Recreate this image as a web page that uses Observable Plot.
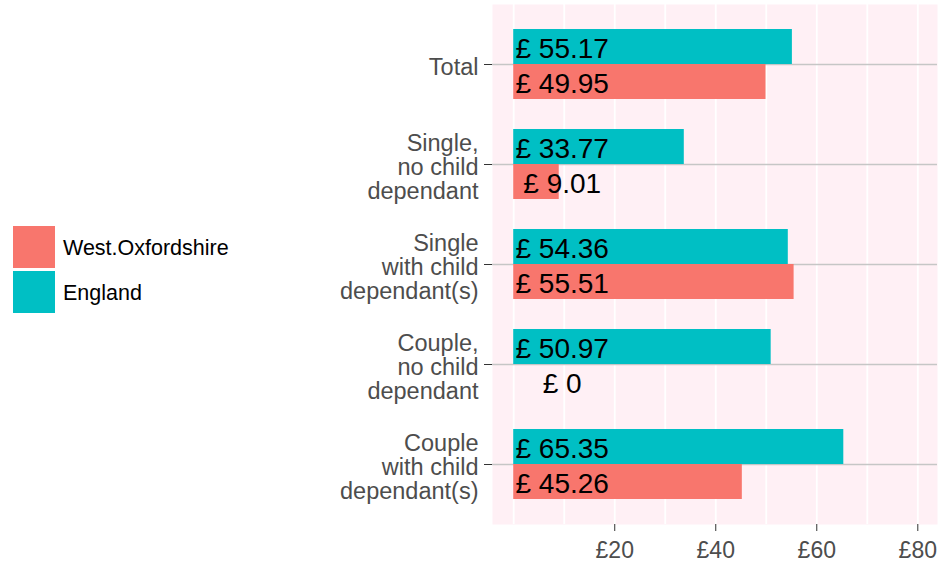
<!DOCTYPE html>
<html>
<head>
<meta charset="utf-8">
<script src="https://cdn.jsdelivr.net/npm/d3@7"></script>
<script src="https://cdn.jsdelivr.net/npm/@observablehq/plot@0.6"></script>
<style>
  html, body { margin: 0; padding: 0; background: #ffffff; }
  #wrap { position: relative; width: 945px; height: 565px; font-family: "Liberation Sans", Arial, sans-serif; }
  #chart { position: absolute; left: 0; top: 0; }
  .legend { position: absolute; left: 13px; top: 226px; }
  .legend .item { display: flex; align-items: center; height: 42px; margin-bottom: 3px; }
  .legend .key { width: 42px; height: 42px; margin-right: 8px; }
  .legend .lab { font-size: 21.5px; color: #000; padding-top: 3px; }
</style>
</head>
<body>
<div id="wrap">
  <div id="chart"></div>
  <div class="legend" id="legend"></div>
</div>
<script>
// ---- data ----
const categories = [
  "Total",
  "Single,\nno child\ndependant",
  "Single\nwith child\ndependant(s)",
  "Couple,\nno child\ndependant",
  "Couple\nwith child\ndependant(s)"
];
const england = [55.17, 33.77, 54.36, 50.97, 65.35];
const westOxfordshire = [49.95, 9.01, 55.51, 0, 45.26];
const seriesNames = ["West.Oxfordshire", "England"];
const seriesColors = ["#F8766D", "#00BFC4"];
const xTicks = [20, 40, 60, 80];
const xGrid = [0, 10, 20, 30, 40, 50, 60, 70, 80];

// ---- build table ----
const barWidth = 0.7;
const labelX = 9.6;
const rows = [];
categories.forEach((c, i) => {
  const pos = i + 1;
  rows.push({cat: c, pos, series: "England", value: england[i], y1: pos - barWidth / 2, y2: pos});
  rows.push({cat: c, pos, series: "West.Oxfordshire", value: westOxfordshire[i], y1: pos, y2: pos + barWidth / 2});
});
const positions = categories.map((c, i) => i + 1);

const chart = Plot.plot({
  width: 945,
  height: 565,
  marginLeft: 492,
  marginRight: 8,
  marginTop: 4,
  marginBottom: 41,
  style: {fontFamily: "'Liberation Sans', Arial, sans-serif", background: "transparent"},
  x: {domain: [-4.2, 83.9]},
  y: {domain: [categories.length + 0.6, 0.4]},
  color: {domain: seriesNames, range: seriesColors},
  marks: [
    Plot.frame({fill: "#FFF0F5", stroke: null}),
    Plot.ruleX(xGrid, {stroke: "white", strokeWidth: 1.8}),
    Plot.ruleY(positions, {stroke: "#c6c6c6", strokeWidth: 1.6}),
    Plot.rectX(rows, {x1: 0, x2: "value", y1: "y1", y2: "y2", fill: "series"}),
    Plot.text(rows, {
      x: () => labelX,
      y: d => (d.y1 + d.y2) / 2,
      text: d => "£ " + d3.format("")(d.value),
      fontSize: 28,
      fill: "#000",
      textAnchor: "middle",
      dy: 2
    }),
    Plot.axisX(xTicks, {
      tickFormat: d => "£" + d,
      fontSize: 23,
      tickSize: 7,
      tickPadding: 10,
      stroke: "#333",
      fill: "#4d4d4d",
      label: null
    }),
    Plot.axisY(positions, {
      text: null,
      tickSize: 8,
      stroke: "#333",
      label: null
    }),
    Plot.axisY(positions, {
      tickFormat: d => categories[d - 1],
      fontSize: 23.5,
      lineHeight: 1.03,
      tickSize: 0,
      tickPadding: 14,
      dy: 3,
      stroke: "none",
      fill: "#4d4d4d",
      label: null
    })
  ]
});
document.getElementById("chart").appendChild(chart);

// ---- legend ----
const legend = document.getElementById("legend");
seriesNames.forEach((name, i) => {
  const item = document.createElement("div");
  item.className = "item";
  const key = document.createElement("div");
  key.className = "key";
  key.style.background = seriesColors[i];
  const lab = document.createElement("div");
  lab.className = "lab";
  lab.textContent = name;
  item.appendChild(key);
  item.appendChild(lab);
  legend.appendChild(item);
});
</script>
</body>
</html>
